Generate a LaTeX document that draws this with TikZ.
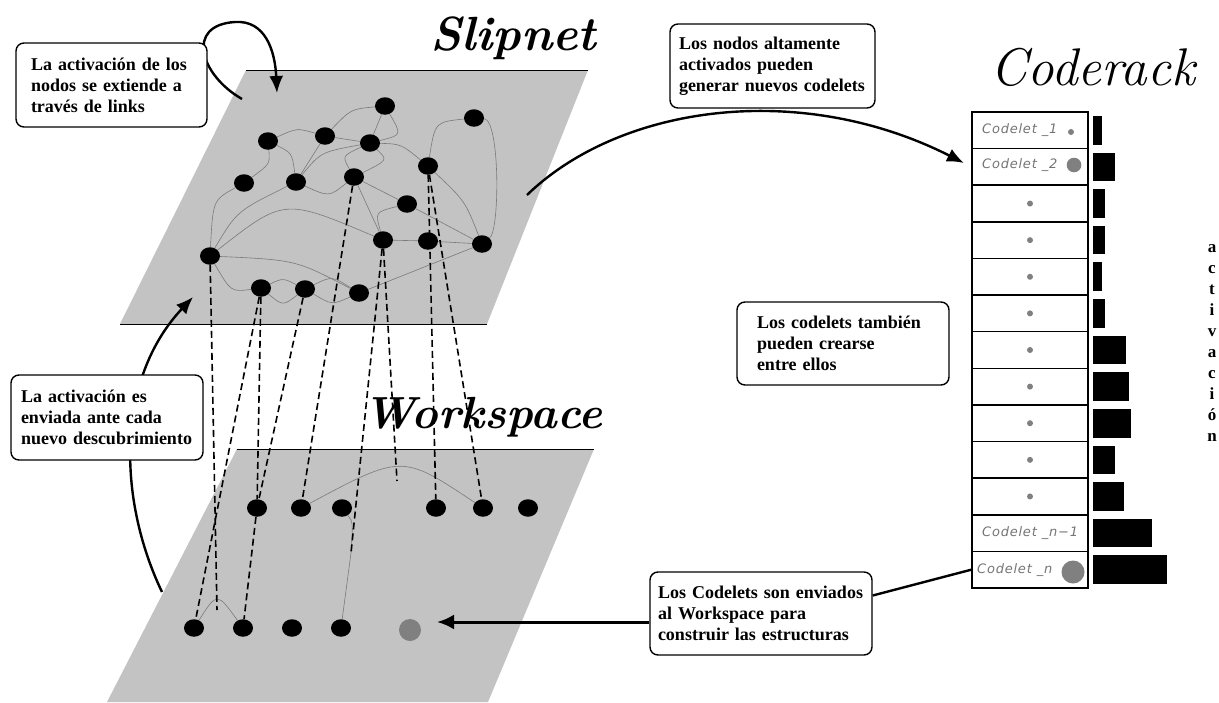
\documentclass[tikz,border=0pt]{standalone}
\usepackage{fontspec}
\newfontfamily\boxfont{Liberation Serif}
\newfontfamily\codefont[LetterSpace=6]{DejaVu Sans}
\usetikzlibrary{arrows.meta,calc,shapes.geometric}
\definecolor{planegray}{HTML}{C3C3C3}
\definecolor{edgegray}{HTML}{7A7A7A}
\definecolor{dotgray}{HTML}{808080}
\definecolor{codegray}{HTML}{757575}
\pgfdeclarelayer{paper}
\pgfdeclarelayer{planes}
\pgfdeclarelayer{links}
\pgfsetlayers{paper,planes,links,main}
\begin{document}
\begin{tikzpicture}[x=1pt,y=-1pt,
  snode/.style={ellipse,fill=black,minimum width=20pt,minimum height=17.5pt,inner sep=0pt},
  gnode/.style={circle,fill=dotgray,minimum size=22pt,inner sep=0pt},
  link/.style={draw=edgegray,line width=0.6pt},
  conn/.style={draw=black,line width=1.6pt,dash pattern=on 7pt off 4pt},
  arr/.style={line width=2.4pt,-{Latex[length=17pt,width=14pt]}},
  callout/.style={draw,line width=1.4pt,rounded corners=8pt,fill=white,align=left,
     font=\boxfont\bfseries\fontsize{18}{21}\selectfont},
  cell/.style={draw,line width=1.5pt,minimum width=116pt,minimum height=36.6pt,inner sep=0pt},
  smalldot/.style={circle,fill=dotgray,minimum size=6pt,inner sep=0pt},
  codelbl/.style={font=\codefont\itshape\fontsize{13}{15}\selectfont,text=codegray,anchor=west,inner sep=0pt},
  title/.style={anchor=base west,inner sep=0pt}
]
\useasboundingbox (0,0) rectangle (1219,702);
\begin{pgfonlayer}{paper}
\fill[white] (0,0) rectangle (1219,702);
\end{pgfonlayer}

% planes
\begin{pgfonlayer}{planes}
\fill[planegray] (246,70) -- (588,70) -- (487,324) -- (120,324) -- cycle;
\draw[line width=1pt] (246,70) -- (588,70);
\draw[line width=1pt] (120,324) -- (487,324);
\fill[planegray] (237,449) -- (594,449) -- (488,702) -- (107,702) -- cycle;
\draw[line width=1pt] (237,449) -- (594,449);
\end{pgfonlayer}

% slipnet nodes
\foreach \n/\x/\y in {s1/385/106,s2/474/118,s3/268/141,s4/325/136,s5/370/143,
  s6/244/183,s7/296/182,s8/354/177,s9/428/166,s10/407/204,s11/383/240,
  s12/428/241,s13/482/244,s14/210/256,s15/261/288,s16/305/289,s17/359/293}
  \node[snode] (\n) at (\x,\y) {};

% workspace nodes
\foreach \n/\x/\y in {w1a/257/508,w1b/301/508,w1c/342/508,w1d/436/508,w1e/483/508,w1f/528/508,
  w2a/194/628,w2b/243/628,w2c/292/628,w2d/341/628}
  \node[snode] (\n) at (\x,\y) {};
\node[gnode] (wg) at (410,630) {};

\coordinate (a1) at (397,481);
\coordinate (a2) at (217,610);
\coordinate (pw) at (351,553);

\begin{pgfonlayer}{links}
% slipnet links
\draw[link] (s3) .. controls (297,128) .. (s4);
\draw[link] (s4) .. controls (351,109) .. (s1);
\draw[link] (s4) -- (s5);
\draw[link] (s1) -- (s5);
\draw[link] (s1) .. controls (402,135) .. (s5);
\draw[link] (s3) .. controls (270,164) .. (s6);
\draw[link] (s3) .. controls (292,153) .. (s7);
\draw[link] (s7) -- (s4);
\draw[link] (s7) .. controls (321,152) .. (s5);
\draw[link] (s5) .. controls (401,144) .. (s9);
\draw[link] (s5) .. controls (342,156) .. (s8);
\draw[link] (s5) .. controls (388,160) .. (s8);
\draw[link] (s7) .. controls (329,197) .. (s8);
\draw[link] (s8) -- (s10);
\draw[link] (s8) -- (s11);
\draw[link] (s10) .. controls (375,212) .. (s11);
\draw[link] (s10) -- (s13);
\draw[link] (s9) .. controls (435,122) .. (s2);
\draw[link] (s2) .. controls (500,120) and (500,230) .. (s13);
\draw[link] (s9) .. controls (465,201) .. (s13);
\draw[link] (s11) -- (s12);
\draw[link] (s12) -- (s13);
\draw[link] (s6) .. controls (213,200) .. (s14);
\draw[link] (s7) .. controls (237,211) .. (s14);
\draw[link] (s14) .. controls (284,198) .. (s11);
\draw[link] (s14) .. controls (296,260) .. (s17);
\draw[link] (s14) .. controls (231,292) .. (s15);
\draw[link] (s15) .. controls (283,278) .. (s16);
\draw[link] (s15) .. controls (283,306) .. (s16);
\draw[link] (s16) .. controls (332,276) .. (s17);
\draw[link] (s16) .. controls (332,305) .. (s17);
\draw[link] (s17) -- (s13);
% workspace links
\draw[link] (w1b) .. controls (402,454) .. (w1e);
\draw[link] (w2a) .. controls (217,592) .. (w2b);
\draw[link] (w1c) .. controls (353,522) .. (pw) -- (w2d);
% dashed connectors
\draw[conn] (s14) -- (a2);
\draw[conn] (s15) -- (w2a);
\draw[conn] (s15) -- (w1a);
\draw[conn] (w1a) -- (w2b);
\draw[conn] (s16) -- (w1a);
\draw[conn] (s8) -- (w1b);
\draw[conn] (s11) -- (pw);
\draw[conn] (s11) -- (a1);
\draw[conn] (s9) -- (w1d);
\draw[conn] (s9) -- (w1e);
\end{pgfonlayer}

% titles
\node[title,font=\bfseries\itshape\fontsize{48}{50}\selectfont] (tslip) at (430,50) {Slipnet};
\node[title,font=\bfseries\itshape\fontsize{45}{48}\selectfont] (twork) at (363,428) {Workspace};
\node[title,font=\itshape\fontsize{53}{55}\selectfont] (tcode) at (990,85) {Coderack};

% coderack
\foreach \i in {1,...,13}
  \node[cell] (c\i) at (1030,{112+36.615*(\i-0.5)}) {};
\foreach \w [count=\i] in {9,22,12,12,9,12,33,36,38,22,31,59,74}
  \fill[black] (1093,{112+36.615*(\i-1)+4}) rectangle ++(\w,28.6);
\foreach \i in {3,...,11}
  \node[smalldot] (d\i) at (c\i) {};
\node[codelbl] (l1) at (982,130) {Codelet \_1};
\node[codelbl] (l2) at (982,165) {Codelet \_2};
\node[codelbl] (l12) at (982,533) {Codelet \_n−1};
\node[codelbl] (l13) at (977,570) {Codelet \_n};
\node[circle,fill=dotgray,minimum size=6pt,inner sep=0pt] (k1) at (1071,132) {};
\node[circle,fill=dotgray,minimum size=14.6pt,inner sep=0pt] (k2) at (1074,165) {};
\node[circle,fill=dotgray,minimum size=23pt,inner sep=0pt] (k13) at (1073,572) {};

% vertical label
\foreach \l [count=\i from 0] in {a,c,t,i,v,a,c,i,ó,n}
  \node[anchor=base,inner sep=0pt,font=\boxfont\bfseries\fontsize{17}{20}\selectfont] (v\i) at (1212,{252+21.1*\i}) {\l};

% arrows behind callouts
\coordinate (ta0) at (242,99);
\coordinate (ta1) at (235,22);
\coordinate (ta2) at (277,93);
\draw[arr] (ta0) .. controls (200,75) and (185,25) .. (ta1) .. controls (265,20) and (275,50) .. (ta2);
\coordinate (la0) at (162,592);
\coordinate (la1) at (193,297);
\draw[arr] (la0) .. controls (118,500) and (115,380) .. (la1);
\coordinate (ra0) at (527,195);
\coordinate (ra1) at (964,163);
\draw[arr] (ra0) .. controls (620,105) and (800,80) .. (ra1);

% callouts
\node[callout,text width=161pt,inner xsep=15pt,minimum height=84pt] (b1) at (111.5,85)
  {La activación de los\\nodos se extiende a\\través de links};
\node[callout,text width=187pt,inner xsep=9pt,minimum height=84pt] (b2) at (772.5,66)
  {Los nodos altamente\\activados pueden\\generar nuevos codelets};
\node[callout,text width=172pt,inner xsep=20pt,minimum height=83pt] (b3) at (843,343.5)
  {Los codelets también\\pueden crearse\\entre ellos};
\node[callout,text width=206pt,inner xsep=8pt,minimum height=83pt] (b4) at (761,613.5)
  {Los Codelets son enviados\\al Workspace para\\construir las estructuras};
\node[callout,text width=172pt,inner xsep=10pt,minimum height=85pt] (b5) at (107,417.5)
  {La activación es\\enviada ante cada\\nuevo descubrimiento};

\coordinate (bt) at (437,622);
\draw[line width=3pt,-{Latex[length=17pt,width=15pt]}] (b4.west |- bt) -- (bt);
\draw[line width=2.4pt] ($(b4.east)+(0,-18)$) -- (c13.west);
\end{tikzpicture}
\end{document}
